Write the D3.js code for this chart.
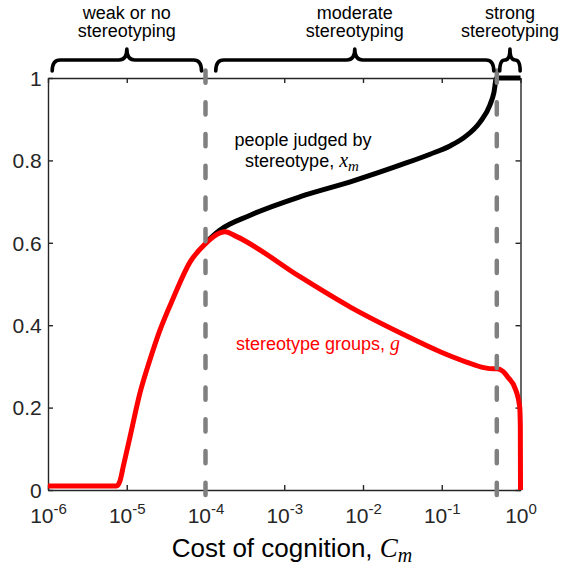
<!DOCTYPE html>
<html>
<head>
<meta charset="utf-8">
<script src="https://cdn.jsdelivr.net/npm/d3@7"></script>
<style>
  html, body { margin: 0; padding: 0; background: #fff; }
  svg { display: block; }
</style>
</head>
<body>
<svg id="chart" width="562" height="570"></svg>
<script>
// ---------- data ----------
const costTicks = [1e-6, 1e-5, 1e-4, 1e-3, 1e-2, 1e-1, 1];
const tickExponents = ["-6", "-5", "-4", "-3", "-2", "-1", "0"];
const yTicks = [0, 0.2, 0.4, 0.6, 0.8, 1];
const yTickLabels = ["0", "0.2", "0.4", "0.6", "0.8", "1"];

// people judged by stereotype, x_m
const costXm = [1e-4, 1.5e-4, 3.7e-4, 1.6e-3, 6.9e-3, 0.030, 0.071, 0.127, 0.197, 0.306, 0.410, 0.460, 0.495, 0.70, 1];
const xmValues = [0.600, 0.630, 0.667, 0.712, 0.748, 0.789, 0.815, 0.835, 0.857, 0.893, 0.935, 0.965, 1.0, 1.0, 1.0];

// stereotype groups, g
const costG = [1e-6, 5e-6, 7.44e-6, 8.2e-6, 9.03e-6, 1.10e-5, 1.47e-5, 1.97e-5, 2.64e-5, 3.90e-5, 6.35e-5,
               1e-4, 1.53e-4, 1.77e-4, 2.49e-4, 1.6e-3, 6.9e-3, 0.030, 0.097, 0.21, 0.342,
               0.46, 0.50, 0.60, 0.684, 0.87, 0.977, 0.995, 1.0];
const gValues = [0.010, 0.010, 0.010, 0.022, 0.057, 0.129, 0.235, 0.316, 0.388, 0.466, 0.553,
                 0.598, 0.624, 0.627, 0.615, 0.517, 0.444, 0.381, 0.335, 0.310, 0.297,
                 0.294, 0.294, 0.288, 0.275, 0.243, 0.202, 0.155, 0.0];

// regime boundaries (dashed lines)
const boundaries = [1e-4, 0.5];

// regime labels and brace extents (in cost units)
const regimeLines1 = ["weak or no", "moderate", "strong"];
const regimeLines2 = ["stereotyping", "stereotyping", "stereotyping"];
const braceFrom = [1.13e-6, 1.35e-4, 0.545];
const braceTo = [8.9e-5, 0.458, 0.99];

// ---------- layout ----------
const svg = d3.select("#chart");
const FONT = "'Liberation Sans', Arial, Helvetica, sans-serif";
const MATH = "'Liberation Serif', 'Times New Roman', serif";
const AX = "#262626";

const x = d3.scaleLog().domain([1e-6, 1]).range([48, 520.5]);
const y = d3.scaleLinear().domain([0, 1]).range([490, 78]);

// ---------- axes (box) ----------
const gx = svg.append("g").attr("transform", `translate(0,${y(0)})`)
  .call(d3.axisBottom(x).tickValues(costTicks).tickSize(-5).tickSizeOuter(0).tickFormat(() => ""));
const gxt = svg.append("g").attr("transform", `translate(0,${y(1)})`)
  .call(d3.axisTop(x).tickValues(costTicks).tickSize(-5).tickSizeOuter(0).tickFormat(() => ""));
const gy = svg.append("g").attr("transform", `translate(${x(1e-6)},0)`)
  .call(d3.axisLeft(y).tickValues(yTicks).tickSize(-5).tickSizeOuter(0).tickPadding(6.3)
        .tickFormat((d, i) => yTickLabels[i]));
const gyr = svg.append("g").attr("transform", `translate(${x(1)},0)`)
  .call(d3.axisRight(y).tickValues(yTicks).tickSize(-5).tickSizeOuter(0).tickFormat(() => ""));

[gx, gxt, gy, gyr].forEach(g => {
  g.selectAll("path.domain").attr("stroke", AX).attr("stroke-width", 1.4);
  g.selectAll(".tick line").attr("stroke", AX).attr("stroke-width", 1.4);
});
gy.attr("font-family", FONT).attr("font-size", 21);
gy.selectAll(".tick text").attr("fill", "#262626").attr("dy", "0.35em");

// bottom tick labels 10^k
gx.selectAll(".tick").each(function(d, i) {
  const t = d3.select(this).append("text")
    .attr("y", 33).attr("text-anchor", "middle")
    .attr("font-family", FONT).attr("font-size", 21).attr("fill", "#262626");
  t.append("tspan").text("10");
  t.append("tspan").attr("dy", -9.5).attr("font-size", 15).text(tickExponents[i]);
});

// x axis label
const xl = svg.append("text").attr("x", 292).attr("y", 557).attr("text-anchor", "middle")
  .attr("font-family", FONT).attr("font-size", 26).attr("fill", "#000");
xl.append("tspan").text("Cost of cognition, ");
xl.append("tspan").attr("font-family", MATH).attr("font-style", "italic").attr("font-size", 27).text("C");
xl.append("tspan").attr("font-family", MATH).attr("font-style", "italic").attr("font-size", 20).attr("dy", 5).text("m");

// ---------- curves ----------
const line = d3.line().x(d => x(d[0])).y(d => y(d[1])).curve(d3.curveMonotoneX);
const xmData = costXm.map((c, i) => [c, xmValues[i]]);
const gData = costG.map((c, i) => [c, gValues[i]]);

svg.append("path").datum(xmData).attr("d", line)
  .attr("fill", "none").attr("stroke", "#000").attr("stroke-width", 5)
  .attr("stroke-linejoin", "round");
svg.append("path").datum(gData).attr("d", line)
  .attr("fill", "none").attr("stroke", "#ff0000").attr("stroke-width", 5)
  .attr("stroke-linejoin", "round");

// dashed boundaries
svg.selectAll("line.boundary").data(boundaries).enter().append("line")
  .attr("class", "boundary")
  .attr("x1", d => x(d)).attr("x2", d => x(d))
  .attr("y1", y(1.018)).attr("y2", y(-0.03))
  .attr("stroke", "#808080").attr("stroke-width", 4.5)
  .attr("stroke-linecap", "round").attr("stroke-dasharray", "12.2,19.5");

// ---------- annotations ----------
const a1 = svg.append("text").attr("x", 303).attr("y", 146).attr("text-anchor", "middle")
  .attr("font-family", FONT).attr("font-size", 18).attr("fill", "#000");
a1.text("people judged by");
const a2 = svg.append("text").attr("x", 302).attr("y", 167).attr("text-anchor", "middle")
  .attr("font-family", FONT).attr("font-size", 18).attr("fill", "#000");
a2.append("tspan").text("stereotype, ");
a2.append("tspan").attr("font-family", MATH).attr("font-style", "italic").attr("font-size", 20).text("x");
a2.append("tspan").attr("font-family", MATH).attr("font-style", "italic").attr("font-size", 15).attr("dy", 4).text("m");

const a3 = svg.append("text").attr("x", 318).attr("y", 350).attr("text-anchor", "middle")
  .attr("font-family", FONT).attr("font-size", 18).attr("fill", "#ff0000");
a3.append("tspan").text("stereotype groups, ");
a3.append("tspan").attr("font-family", MATH).attr("font-style", "italic").attr("font-size", 20).text("g");

// ---------- regime braces ----------
function bracePath(x1, x2, yEnd, yMid, yTip) {
  const xm = (x1 + x2) / 2;
  const r = Math.min(8, (x2 - x1) / 4);
  return `M${x1},${yEnd} Q${x1},${yMid} ${x1 + r},${yMid} L${xm - r},${yMid} Q${xm},${yMid} ${xm},${yTip}` +
         ` Q${xm},${yMid} ${xm + r},${yMid} L${x2 - r},${yMid} Q${x2},${yMid} ${x2},${yEnd}`;
}
regimeLines1.forEach((lab, i) => {
  const x1 = x(braceFrom[i]), x2 = x(braceTo[i]);
  const xc = (x1 + x2) / 2;
  svg.append("path").attr("d", bracePath(x1, x2, 71, 60, 49))
    .attr("fill", "none").attr("stroke", "#000").attr("stroke-width", 3.6)
    .attr("stroke-linecap", "round").attr("stroke-linejoin", "round");
  svg.append("text").attr("x", xc).attr("y", 18.5).attr("text-anchor", "middle")
    .attr("font-family", FONT).attr("font-size", 18).attr("fill", "#000").text(lab);
  svg.append("text").attr("x", xc).attr("y", 37).attr("text-anchor", "middle")
    .attr("font-family", FONT).attr("font-size", 18).attr("fill", "#000").text(regimeLines2[i]);
});
</script>
</body>
</html>
